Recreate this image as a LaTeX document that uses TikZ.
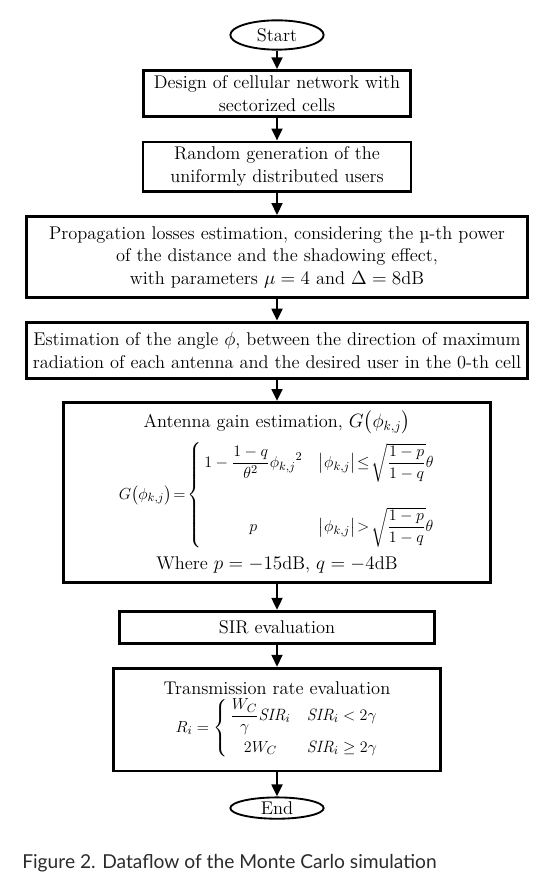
\documentclass[tikz,border=0pt]{standalone}
\usepackage{amsmath}
\usepackage{fontspec}
\newfontfamily\captionfont{Lato}
\usetikzlibrary{arrows.meta, positioning, shapes.geometric}
\definecolor{captc}{HTML}{2b2b2b}
\newcommand{\eqsize}{\fontsize{12.3}{14}\selectfont}

\begin{document}
\begin{tikzpicture}[
  procbox/.style={draw, line width=2.2pt, align=center, inner sep=2pt, font=\fontsize{13.8}{17}\selectfont},
  term/.style={draw, ellipse, line width=1.4pt, inner sep=0pt, minimum width=70pt, font=\fontsize{13.8}{17}\selectfont},
  arr/.style={-{Triangle[length=9pt, width=8pt]}, line width=2pt}
]
\useasboundingbox (-207.75pt,26.25pt) rectangle (207pt,-639pt);

\node[term, minimum height=22pt] (start) at (0,0) {Start};
\node[procbox, minimum width=200pt, minimum height=34pt, below=14pt of start] (design)
  {Design of cellular network with\\ sectorized cells};
\node[procbox, minimum width=201pt, minimum height=37pt, below=17.25pt of design] (users)
  {Random generation of the\\ uniformly distributed users};
\node[procbox, minimum width=376pt, minimum height=61pt, below=16.75pt of users] (losses)
  {Propagation losses estimation, considering the µ-th power\\ of the distance and the shadowing effect,\\ with parameters $\mu = 4$ and $\Delta = 8$dB};
\node[procbox, minimum width=376pt, minimum height=42pt, below=16pt of losses] (angle)
  {Estimation of the angle $\phi$, between the direction of maximum\\ radiation of each antenna and the desired user in the 0-th cell};
\node[procbox, minimum width=320pt, minimum height=135pt, below=16pt of angle] (gain)
  {Antenna gain estimation, $G\bigl(\phi_{k,j}\bigr)$\\[5pt]
   {\eqsize$G\bigl(\phi_{k,j}\bigr)\!=\!\left\{\begin{array}{@{\,}c@{\quad}l@{}}
     1-\dfrac{1-q}{\theta^{2}}{\phi_{k,j}}^{2} & \bigl|\phi_{k,j}\bigr|\!\le\!\sqrt{\dfrac{1-p}{1-q}}\theta\\[26pt]
     p & \bigl|\phi_{k,j}\bigr|\!>\!\sqrt{\dfrac{1-p}{1-q}}\theta
   \end{array}\right.$}\\[6pt]
   Where $p = -15$dB, $q = -4$dB};
\node[procbox, minimum width=236pt, minimum height=24pt, below=19.5pt of gain] (sir)
  {SIR evaluation};
\node[procbox, minimum width=245pt, minimum height=77pt, below=16.5pt of sir] (rate)
  {Transmission rate evaluation\\[2pt]
   {\eqsize$R_i=\left\{\begin{array}{@{\,}c@{\quad}l@{}}
     \dfrac{W_C}{\gamma}\mathit{SIR}_i & \mathit{SIR}_i<2\gamma\\[10pt]
     2W_C & \mathit{SIR}_i\ge 2\gamma
   \end{array}\right.$}};
\node[term, minimum height=16pt, below=18pt of rate] (stop) {End};

\draw[arr] (start) -- (design);
\draw[arr] (design) -- (users);
\draw[arr] (users) -- (losses);
\draw[arr] (losses) -- (angle);
\draw[arr] (angle) -- (gain);
\draw[arr] (gain) -- (sir);
\draw[arr] (sir) -- (rate);
\draw[arr] (rate) -- (stop);

\node[anchor=west, inner sep=0pt, font=\captionfont\fontsize{14.4}{16}\selectfont, text=captc] (caption)
  at (-191.25pt,-621pt) {Figure 2. Dataflow of the Monte Carlo simulation};
\end{tikzpicture}
\end{document}
